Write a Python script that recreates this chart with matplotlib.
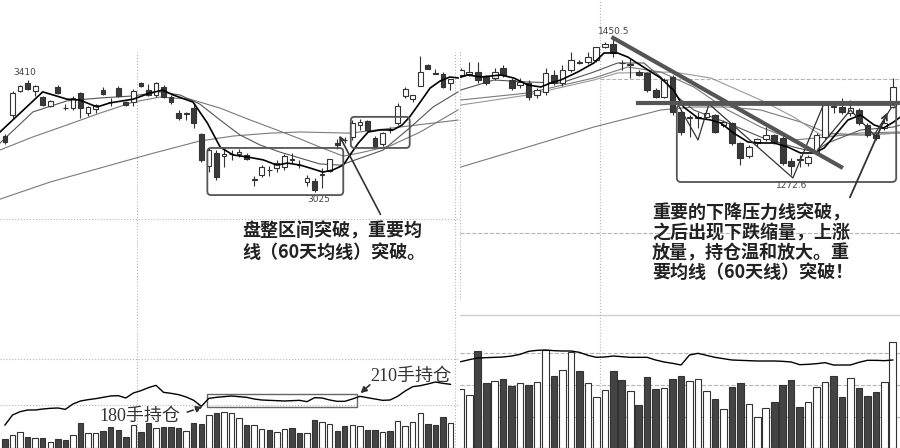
import matplotlib.pyplot as plt
from matplotlib.patches import FancyBboxPatch, Rectangle

plt.rcParams['font.family'] = ['Noto Sans CJK SC', 'DejaVu Sans']

# ---------------- left chart: 60 daily candles ----------------
left_open = [3217, 3289, 3372, 3400, 3372, 3351, 3320, 3386, 3313, 3313,
             3365, 3296, 3310, 3375, 3334, 3382, 3334, 3334, 3400, 3375,
             3358, 3386, 3351, 3296, 3293, 3313, 3224, 3114, 3159, 3148,
             3155, 3155, 3152, 3066, 3083, 3100, 3107, 3110, 3135, 3117,
             3059, 3062, 3083, 3097, 3193, 3203, 3214, 3255, 3269, 3210,
             3190, 3238, 3262, 3355, 3344, 3389, 3461, 3434, 3430, 3400]
left_high = [3224, 3372, 3393, 3410, 3393, 3355, 3341, 3393, 3327, 3355,
             3369, 3320, 3327, 3386, 3348, 3389, 3338, 3379, 3403, 3396,
             3403, 3393, 3358, 3307, 3300, 3331, 3227, 3176, 3169, 3176,
             3169, 3172, 3159, 3080, 3117, 3114, 3135, 3155, 3159, 3135,
             3083, 3073, 3107, 3138, 3207, 3214, 3272, 3276, 3272, 3217,
             3231, 3248, 3331, 3386, 3358, 3492, 3465, 3448, 3437, 3413]
left_low = [3190, 3279, 3369, 3375, 3355, 3320, 3317, 3362, 3307, 3307,
            3279, 3286, 3296, 3358, 3320, 3351, 3320, 3320, 3386, 3355,
            3351, 3348, 3327, 3272, 3272, 3245, 3128, 3093, 3066, 3110,
            3135, 3145, 3135, 3045, 3076, 3080, 3093, 3100, 3124, 3107,
            3045, 3025, 3038, 3093, 3172, 3193, 3203, 3238, 3234, 3176,
            3183, 3227, 3255, 3348, 3334, 3389, 3448, 3430, 3382, 3375]
left_close = [3197, 3365, 3389, 3379, 3389, 3324, 3338, 3365, 3312, 3348,
              3313, 3317, 3324, 3362, 3334, 3355, 3324, 3372, 3389, 3358,
              3400, 3351, 3334, 3279, 3296, 3262, 3135, 3169, 3076, 3155,
              3155, 3162, 3138, 3066, 3110, 3100, 3124, 3148, 3135, 3117,
              3073, 3031, 3083, 3138, 3186, 3203, 3262, 3265, 3238, 3179,
              3227, 3238, 3320, 3379, 3358, 3437, 3448, 3430, 3386, 3413]
# 1 = hollow (up) day, 0 = filled (down) day
left_up = [0, 1, 1, 0, 1, 0, 1, 0, 0, 1, 0, 1, 1, 0, 0, 0, 0, 1, 0, 0,
           1, 0, 0, 0, 1, 0, 0, 1, 0, 1, 1, 1, 0, 1, 1, 0, 1, 1, 0, 0,
           1, 0, 1, 1, 0, 0, 1, 1, 0, 0, 1, 0, 1, 1, 1, 1, 0, 0, 0, 1]
left_vol = [900, 1300, 1600, 1100, 1000, 1000, 600, 900, 800, 1300,
            2500, 1500, 1500, 1700, 2100, 1800, 1100, 2300, 1600, 2500,
            2000, 2100, 2100, 2000, 1700, 2500, 2400, 3300, 3500, 3600,
            3500, 3000, 2300, 2300, 1900, 1800, 1600, 1900, 2000, 1500,
            1500, 2800, 2600, 2400, 1700, 2200, 2300, 2200, 1800, 1800,
            1600, 1700, 2700, 2200, 2600, 3500, 2400, 2300, 3100, 2500]
# open interest (lots)
left_oi = [126, 156, 166, 171, 171, 174, 176, 177, 173, 189,
           198, 202, 205, 209, 213, 214, 207, 222, 229, 238,
           245, 224, 221, 217, 210, 200, 182, 206, 209, 211,
           213, 211, 209, 204, 201, 200, 199, 198, 199, 200,
           196, 208, 207, 201, 197, 197, 204, 212, 208, 204,
           200, 201, 212, 228, 241, 244, 249, 255, 251, 248]

# moving averages (day index, price)
ma5_left_x = [-0.66, 5.0, 8.2, 9.9, 12.2, 13.9, 17.0, 19.2, 20.9, 22.3, 24.9, 26.8,
              28.5, 30.2, 32.1, 34.2, 36.0, 37.4, 39.1, 40.4, 42.1, 43.4, 44.8, 45.7,
              46.8, 48.1, 49.7, 51.4, 52.6, 53.6, 55.0, 56.3, 57.6, 58.9, 60.0]
ma5_left = [3231, 3369, 3344, 3341, 3317, 3331, 3344, 3365, 3375, 3358, 3334, 3262,
            3179, 3152, 3145, 3135, 3117, 3124, 3117, 3107, 3093, 3100, 3117, 3152,
            3193, 3231, 3238, 3238, 3255, 3283, 3334, 3382, 3406, 3420, 3417]
ma10_left_x = [-0.66, 3.7, 8.2, 12.6, 17.0, 20.5, 23.2, 25.8, 28.5, 31.1,
               33.8, 36.4, 39.1, 41.7, 44.4, 46.4, 50.1, 53.6, 56.7, 60.0]
ma10_left = [3193, 3300, 3338, 3348, 3355, 3369, 3358, 3327, 3272, 3221,
             3186, 3162, 3141, 3121, 3117, 3135, 3169, 3245, 3317, 3369]
ma20_left_x = [-0.66, 3.7, 8.2, 12.6, 17.0, 20.5, 24.5, 28.5, 32.5,
               36.4, 39.1, 41.7, 44.8, 47.0, 51.0, 55.0, 60.0]
ma20_left = [3169, 3214, 3255, 3296, 3334, 3351, 3344, 3313, 3272,
             3234, 3207, 3179, 3148, 3159, 3183, 3231, 3307]
ma60_left_x = [-0.66, 6.0, 12.6, 19.2, 25.8, 30.2, 35.1, 39.1, 45.7, 53.6, 60.0]
ma60_left = [3000, 3059, 3107, 3155, 3200, 3217, 3227, 3231, 3227, 3252, 3272]

# ---------------- right chart: 52 daily candles ----------------
right_open = [1402.5, 1403.8, 1406.4, 1399.9, 1398.6, 1411.6, 1396, 1389.5, 1392.1, 1376.5,
              1380.4, 1402.5, 1392.1, 1409, 1419.4, 1419.4, 1422, 1438.9, 1442.8, 1418.1,
              1415.5, 1406.4, 1405.1, 1383, 1373.9, 1399.9, 1354.4, 1346.6, 1346.6, 1347.9,
              1350.5, 1337.5, 1340.1, 1314.1, 1297.2, 1314.1, 1319.3, 1324.5, 1320.6, 1290.7,
              1292, 1288.1, 1302.4, 1321.9, 1360.9, 1360.9, 1353.1, 1357, 1337.5, 1320.6,
              1333.6, 1360.9]
right_high = [1411.6, 1419.4, 1419.4, 1402.5, 1411.6, 1415.5, 1398.6, 1398.6, 1396, 1385.6,
              1411.6, 1409, 1415.5, 1432.4, 1422, 1432.4, 1438.9, 1445.4, 1450.5, 1422,
              1424.6, 1409, 1406.4, 1385.6, 1398.6, 1402.5, 1357, 1350.5, 1354.4, 1357,
              1351.8, 1344, 1341.4, 1315.4, 1311.5, 1320.6, 1334.9, 1325.8, 1323.2, 1294.6,
              1298.5, 1298.5, 1327.1, 1366.1, 1366.1, 1372.6, 1370, 1359.6, 1340.1, 1327.1,
              1344, 1398.6]
right_low = [1399.9, 1401.2, 1392.1, 1389.5, 1396, 1399.9, 1383, 1385.6, 1370, 1372.6,
             1376.5, 1389.5, 1388.2, 1406.4, 1416.8, 1416.8, 1419.4, 1437.6, 1425.9, 1409,
             1398.6, 1401.2, 1380.4, 1372.6, 1372.6, 1350.5, 1324.5, 1321.9, 1333.6, 1345.3,
             1327.1, 1334.9, 1311.5, 1285.5, 1294.6, 1310.2, 1316.7, 1312.8, 1285.5, 1272.6,
             1282.9, 1284.2, 1298.5, 1319.3, 1353.1, 1351.8, 1349.2, 1337.5, 1321.9, 1318,
             1331, 1359.6]
right_close = [1409, 1406.4, 1396, 1392.1, 1406.4, 1402.5, 1385.6, 1393.4, 1373.9, 1383,
               1405.1, 1392.1, 1409, 1422, 1418.1, 1425.9, 1438.9, 1442.8, 1431.1, 1417.5,
               1415.5, 1402.5, 1383, 1373.9, 1396, 1354.4, 1328.4, 1346.6, 1346.6, 1353.1,
               1328.4, 1341.4, 1314.1, 1294.6, 1308.9, 1319.3, 1324.5, 1315.4, 1288.1, 1284.2,
               1292, 1295.9, 1324.5, 1363.5, 1360.9, 1354.4, 1359.6, 1340.1, 1324.5, 1324.5,
               1340.1, 1386.9]
right_up = [1, 1, 0, 0, 1, 0, 0, 1, 0, 1, 1, 0, 1, 1, 0, 1, 1, 1, 0, 0,
            1, 0, 0, 0, 1, 0, 0, 1, 1, 1, 0, 1, 0, 0, 1, 1, 1, 0, 0, 0,
            0, 1, 1, 1, 0, 0, 1, 0, 0, 0, 1, 1]
right_vol = [5870, 5300, 9730, 6470, 6700, 6900, 6200, 6470, 6300, 6630,
             9800, 7200, 7800, 9630, 7700, 6470, 5130, 5800, 7730, 6800,
             5700, 4300, 7130, 5870, 5970, 6900, 7200, 6700, 6900, 5700,
             4870, 3900, 6070, 6470, 4400, 3130, 3970, 4570, 6300, 6800,
             4070, 4570, 6070, 6570, 7200, 5130, 7030, 5970, 5230, 5570,
             6570, 10570]
right_oi = [316, 322, 327, 328, 329, 330, 333, 338, 347, 350,
            351, 349, 348, 348, 344, 335, 329, 330, 333, 331,
            329, 329, 329, 321, 315, 311, 306, 336, 341, 335,
            329, 325, 321, 320, 319, 318, 318, 318, 317, 315,
            307, 308, 310, 313, 306, 306, 306, 314, 320, 320,
            319, 321]

ma5_right_x = [0, 0.83, 2.36, 4.72, 6.26, 7.91, 9.45, 10.6, 11.8, 13.8, 15.7, 16.9,
               18.5, 19.7, 22.1, 23.6, 25.1, 26.3, 28.0, 29.5, 30.7, 32.2, 33.9, 35.4,
               37.0, 38.6, 40.1, 41.7, 42.9, 44.0, 45.7, 47.2, 48.8, 49.9, 51.1, 51.9]
ma5_right = [1399.9, 1402.5, 1399.9, 1402.5, 1398.6, 1389.5, 1386.9, 1392.1, 1396, 1406.4,
             1418.1, 1431.1, 1431.1, 1425.9, 1409, 1398.6, 1383, 1360.9, 1346.6, 1344,
             1340.1, 1327.1, 1315.4, 1314.1, 1314.1, 1308.9, 1301.1, 1301.1, 1307.6, 1321.9,
             1344, 1350.5, 1337.5, 1333.6, 1341.4, 1347.9]
ma10_right_x = [0, 3.9, 7.9, 11.8, 15.7, 18.5, 21.6, 23.6, 25.6,
                27.5, 31.5, 35.4, 39.3, 41.7, 43.3, 47.2, 51.1, 51.9]
ma10_right = [1383, 1396, 1393.4, 1392.1, 1406.4, 1418.1, 1418.1, 1399.9, 1373.9,
              1357, 1340.1, 1321.9, 1308.9, 1302.4, 1314.1, 1331, 1334.9, 1337.5]
ma20_right_x = [0, 7.9, 15.7, 19.7, 23.6, 27.5, 31.5, 35.4, 39.3, 43.3, 47.2, 51.9]
ma20_right = [1370, 1379.1, 1398.6, 1412.9, 1406.4, 1386.9, 1357, 1334.9, 1318, 1321.9,
              1327.1, 1328.4]
ma30_right_x = [0, 7.9, 15.7, 18.5, 25.1, 29.5, 35.4, 39.3, 42.5, 47.2, 51.9]
ma30_right = [1363.5, 1376.5, 1396, 1405.1, 1406.4, 1398.6, 1370, 1347.9, 1324.5, 1324.5,
              1327.1]
ma60_right_x = [0, 7.9, 15.7, 23.6, 27.5, 31.5, 35.4, 40.1, 43.3, 47.2, 51.9]
ma60_right = [1282.9, 1308.9, 1334.9, 1357, 1360.9, 1360.9, 1357, 1341.4, 1327.1, 1324.5,
              1327.1]
# hand drawn swing lines
swing1_x = [25.6, 28.0, 29.3, 39.2, 42.9]
swing1 = [1364.8, 1318, 1364.8, 1268.6, 1366.1]
swing2_x = [42.1, 46.0, 48.8, 50.8]
swing2 = [1305, 1357, 1324.5, 1359.6]

DARK = '#3a3a3a'
EDGE = '#333333'
MA_GRAY = '#7a7a7a'
GRID = '#b5b5b5'


def draw_candles(ax, opens, highs, lows, closes, up, width, min_body):
    for i in range(len(opens)):
        lo = min(opens[i], closes[i])
        hi = max(opens[i], closes[i])
        ax.vlines(i, lows[i], highs[i], color=EDGE, lw=0.8, zorder=3)
        face = 'white' if up[i] else DARK
        ax.bar(i, max(hi - lo, min_body), width, bottom=lo, color=face,
               edgecolor=EDGE, lw=0.8, zorder=4)


def draw_volume(ax, vols, up, width):
    faces = ['white' if u else '#444444' for u in up]
    ax.bar(range(len(vols)), vols, width, color=faces, edgecolor=EDGE, lw=0.8, zorder=2)


fig = plt.figure(figsize=(9, 4.48), dpi=100)
ax_l = fig.add_axes([0, 148 / 448, 460 / 900, 300 / 448])
ax_r = fig.add_axes([460 / 900, 148 / 448, 440 / 900, 300 / 448])
ax_lv = fig.add_axes([0, 0, 460 / 900, 148 / 448])
ax_rv = fig.add_axes([460 / 900, 0, 440 / 900, 148 / 448])
ax_lo = ax_lv.twinx()
ax_ro = ax_rv.twinx()

# ---- left price panel ----
ax_l.vlines(17.5, 2653, 3506, colors=GRID, linestyles=':', lw=0.8)
ax_l.vlines(59.6, 2653, 3506, colors=GRID, linestyles=':', lw=0.8)
ax_l.axhline(2932, color=GRID, ls=':', lw=0.8)
ax_l.plot(ma60_left_x, ma60_left, color=MA_GRAY, lw=0.8)
ax_l.plot(ma20_left_x, ma20_left, color=MA_GRAY, lw=0.8)
ax_l.plot(ma10_left_x, ma10_left, color='#555555', lw=0.8)
ax_l.plot(ma5_left_x, ma5_left, color='black', lw=1.2, zorder=5)
draw_candles(ax_l, left_open, left_high, left_low, left_close, left_up, 0.62, 1.8)
ax_l.text(2.65, 3434, '3410', fontsize=6.5, color='#444', ha='center', va='center',
          family='DejaVu Sans')
ax_l.text(41.5, 2997, '3025', fontsize=6.5, color='#444', ha='center', va='center',
          family='DejaVu Sans')
ax_l.add_patch(FancyBboxPatch((26.8, 3014), 18.0, 162, boxstyle='round,pad=0,rounding_size=0.5',
                              mutation_aspect=26, fc='none', ec='#555', lw=1.3, zorder=6))
ax_l.add_patch(FancyBboxPatch((45.8, 3176), 7.8, 107, boxstyle='round,pad=0,rounding_size=0.5',
                              mutation_aspect=26, fc='none', ec='#555', lw=1.3, zorder=6))
ax_l.annotate('', xy=(44.1, 3227), xytext=(49.9, 2939),
              arrowprops=dict(arrowstyle='->', color='#333', lw=1.2), zorder=7)
ax_l.set_xlim(-0.66, 60.26)
ax_l.set_ylim(2653, 3685)

# ---- right price panel ----
ax_r.vlines(-0.05, 1110, 1435, colors=GRID, linestyles=':', lw=0.8)
ax_r.axvline(16.4, color=GRID, ls=':', lw=0.8)
ax_r.hlines(1397.3, 16.4, 51.85, colors=GRID, linestyles='--', lw=0.8)
ax_r.axhline(1197, color=GRID, ls='--', lw=0.8)
ax_r.plot(ma60_right_x, ma60_right, color=MA_GRAY, lw=0.8)
ax_r.plot(ma30_right_x, ma30_right, color='#999999', lw=0.8)
ax_r.plot(ma20_right_x, ma20_right, color=MA_GRAY, lw=0.8)
ax_r.plot(ma10_right_x, ma10_right, color='#555555', lw=0.8)
ax_r.plot(ma5_right_x, ma5_right, color='black', lw=1.2, zorder=5)
ax_r.plot(swing1_x, swing1, color='#333', lw=0.9, zorder=5)
ax_r.plot(swing2_x, swing2, color='#333', lw=0.9, zorder=5)
draw_candles(ax_r, right_open, right_high, right_low, right_close, right_up, 0.68, 0.7)
ax_r.plot([18.0, 44.9], [1450.6, 1282.9], color='#555', lw=3, zorder=6)
ax_r.plot([20.9, 51.7], [1366.1, 1366.1], color='#555', lw=3, zorder=6)
ax_r.add_patch(FancyBboxPatch((25.5, 1263.4), 25.9, 100.1, boxstyle='round,pad=0,rounding_size=0.5',
                              mutation_aspect=11, fc='none', ec='#555', lw=1.3, zorder=6))
ax_r.annotate('', xy=(50.5, 1357), xytext=(45.8, 1240),
              arrowprops=dict(arrowstyle='->', color='#333', lw=1.3), zorder=7)
ax_r.text(18.1, 1458.4, '1450.5', fontsize=6.5, color='#444', ha='center', va='center',
          family='DejaVu Sans')
ax_r.text(39.0, 1259.5, '1272.6', fontsize=6.5, color='#444', ha='center', va='center',
          family='DejaVu Sans')
ax_r.set_xlim(-0.1, 51.85)
ax_r.set_ylim(1110, 1500)

# ---- left volume / open interest ----
ax_lv.axhline(8900, color=GRID, ls=':', lw=0.8)
ax_lv.axhline(4300, color=GRID, ls=':', lw=0.8)
ax_lv.axvline(17.5, color=GRID, ls=':', lw=0.8)
ax_lv.axvline(59.6, color=GRID, ls=':', lw=0.8)
draw_volume(ax_lv, left_vol, left_up, 0.72)
ax_lv.set_xlim(-0.66, 60.26)
ax_lv.set_ylim(0, 14800)
ax_lo.plot(range(len(left_oi)), left_oi, color='black', lw=1.0)
ax_lo.add_patch(Rectangle((26.8, 180), 19.8, 39, fc='none', ec='#666', lw=1.0))
ax_lo.annotate('', xy=(26.5, 183), xytext=(23.8, 162),
               arrowprops=dict(arrowstyle='-|>', color='#333', lw=1.2, ls='--',
                               mutation_scale=9))
ax_lo.annotate('', xy=(46.8, 216), xytext=(48.6, 252),
               arrowprops=dict(arrowstyle='-|>', color='#333', lw=1.2, mutation_scale=9))
ax_lo.set_xlim(-0.66, 60.26)
ax_lo.set_ylim(57, 501)

# ---- right volume / open interest ----
ax_rv.axhline(13300, color='#d0d0d0', lw=1.0)
for lvl in [9500, 6300, 3100]:
    ax_rv.axhline(lvl, color=GRID, ls='--', lw=0.8)
ax_rv.axvline(16.4, color=GRID, ls=':', lw=0.8)
draw_volume(ax_rv, right_vol, right_up, 0.78)
ax_rv.set_xlim(-0.1, 51.85)
ax_rv.set_ylim(0, 14800)
ax_ro.plot(range(len(right_oi)), right_oi, color='black', lw=1.0)
ax_ro.set_xlim(-0.1, 51.85)
ax_ro.set_ylim(57, 501)

for ax in [ax_l, ax_r, ax_lv, ax_rv, ax_lo, ax_ro]:
    ax.axis('off')

# annotation texts
note_font = dict(fontsize=13, color='#222', fontweight='bold', ha='left', va='center')
fig.text(242 / 900, 1 - 231 / 448, '盘整区间突破，重要均', **note_font)
fig.text(242 / 900, 1 - 252 / 448, '线（60天均线）突破。', **note_font)
fig.text(652 / 900, 1 - 213 / 448, '重要的下降压力线突破，', **note_font)
fig.text(652 / 900, 1 - 233 / 448, '之后出现下跌缩量，上涨', **note_font)
fig.text(652 / 900, 1 - 253 / 448, '放量，持仓温和放大。重', **note_font)
fig.text(652 / 900, 1 - 272 / 448, '要均线（60天线）突破！', **note_font)

serif = ['Liberation Serif', 'Noto Sans CJK SC']
fig.text(140 / 900, 1 - 416 / 448, '180手持仓', fontsize=13, color='#333',
         family=serif, ha='center', va='center')
fig.text(411 / 900, 1 - 376 / 448, '210手持仓', fontsize=13, color='#333',
         family=serif, ha='center', va='center')

fig.savefig('out.png', dpi=100)
